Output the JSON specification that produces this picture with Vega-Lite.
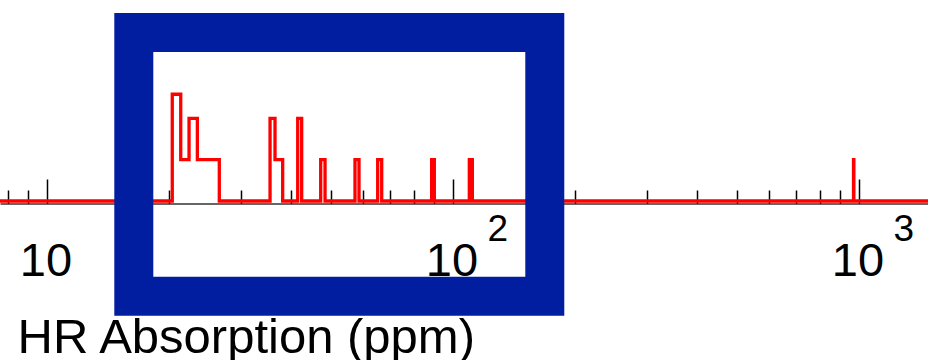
{
  "$schema": "https://vega.github.io/schema/vega-lite/v6.json",
  "width": 928,
  "height": 201,
  "autosize": {"type": "none"},
  "padding": {"left": 0, "top": 0, "right": 0, "bottom": 159},
  "background": "white",
  "config": {"view": {"stroke": null}, "font": "Liberation Sans"},
  "layer": [
    {
      "data": {"values": [
        {"ppm": 7.66, "count": 0},
        {"ppm": 20.35, "count": 3},
        {"ppm": 21.35, "count": 1},
        {"ppm": 22.38, "count": 2},
        {"ppm": 23.46, "count": 1},
        {"ppm": 26.57, "count": 0},
        {"ppm": 35.43, "count": 2},
        {"ppm": 36.44, "count": 1},
        {"ppm": 38.06, "count": 0},
        {"ppm": 41.45, "count": 2},
        {"ppm": 42.39, "count": 0},
        {"ppm": 47.22, "count": 1},
        {"ppm": 48.4, "count": 0},
        {"ppm": 57.36, "count": 1},
        {"ppm": 58.68, "count": 0},
        {"ppm": 65.24, "count": 1},
        {"ppm": 66.74, "count": 0},
        {"ppm": 88.6, "count": 1},
        {"ppm": 89.95, "count": 0},
        {"ppm": 109.7, "count": 1},
        {"ppm": 111.6, "count": 0},
        {"ppm": 969.5, "count": 1},
        {"ppm": 971.3, "count": 0},
        {"ppm": 1479, "count": 0}
      ]},
      "mark": {"type": "line", "interpolate": "step-after", "color": "#ff0000", "strokeWidth": 3.3, "strokeJoin": "miter", "invalid": null},
      "encoding": {
        "x": {
          "field": "ppm", "type": "quantitative",
          "scale": {"type": "log", "domain": [7.66, 1479], "nice": false, "zero": false},
          "axis": {
            "orient": "bottom",
            "offset": 2.5,
            "values": [8, 9, 10, 20, 30, 40, 50, 60, 70, 80, 90, 100, 200, 300, 400, 500, 600, 700, 800, 900, 1000],
            "labelExpr": "indexof([10,100,1000], datum.value) >= 0 ? '10' : ''",
            "labelFont": "Liberation Sans",
            "labelFontSize": 47,
            "labelColor": "black",
            "labelBaseline": "alphabetic",
            "labelPadding": 96,
            "labelOverlap": false,
            "labelFlush": false,
            "labelBound": false,
            "labelOffset": -1.5,
            "tickSize": {"condition": {"test": "indexof([10,100,1000], datum.value) >= 0", "value": -24.5}, "value": -13.5},
            "tickColor": "black",
            "tickWidth": 1.5,
            "domainColor": "#333333",
            "domainWidth": 1.5,
            "grid": false,
            "title": "HR Absorption (ppm)",
            "titleFont": "Liberation Sans",
            "titleFontSize": 49,
            "titleFontWeight": "normal",
            "titleColor": "black",
            "titleAnchor": "start",
            "titleAlign": "left",
            "titleBaseline": "alphabetic",
            "titleX": 17,
            "titleY": 149
          }
        },
        "y": {
          "field": "count", "type": "quantitative",
          "scale": {"type": "log", "domain": [0.5, 14.6], "clamp": true, "nice": false, "zero": false},
          "axis": null
        }
      }
    },
    {
      "data": {"values": [
        {"x0": 16.36, "x1": 168.3, "y0": 0.1009, "y1": 8.45}
      ]},
      "mark": {"type": "rect", "filled": false, "stroke": "#021ea0", "strokeWidth": 39, "strokeJoin": "miter", "clip": false},
      "encoding": {
        "x": {
          "field": "x0", "type": "quantitative",
          "scale": {"type": "log", "domain": [7.66, 1479], "nice": false, "zero": false},
          "axis": {
            "orient": "bottom",
            "offset": 2.5,
            "values": [100, 1000],
            "labelExpr": "datum.value == 100 ? '2' : '3'",
            "labelFont": "Liberation Sans",
            "labelFontSize": 37,
            "labelColor": "black",
            "labelAlign": "left",
            "labelOffset": 34,
            "labelBaseline": "alphabetic",
            "labelPadding": 36.5,
            "labelOverlap": false,
            "labelFlush": false,
            "labelBound": false,
            "ticks": false,
            "domain": false,
            "grid": false,
            "title": null
          }
        },
        "x2": {"field": "x1"},
        "y": {
          "field": "y0", "type": "quantitative",
          "scale": {"type": "log", "domain": [0.5, 14.6], "clamp": false, "nice": false, "zero": false},
          "axis": null
        },
        "y2": {"field": "y1"}
      }
    }
  ],
  "resolve": {"scale": {"y": "independent"}, "axis": {"x": "independent"}}
}
